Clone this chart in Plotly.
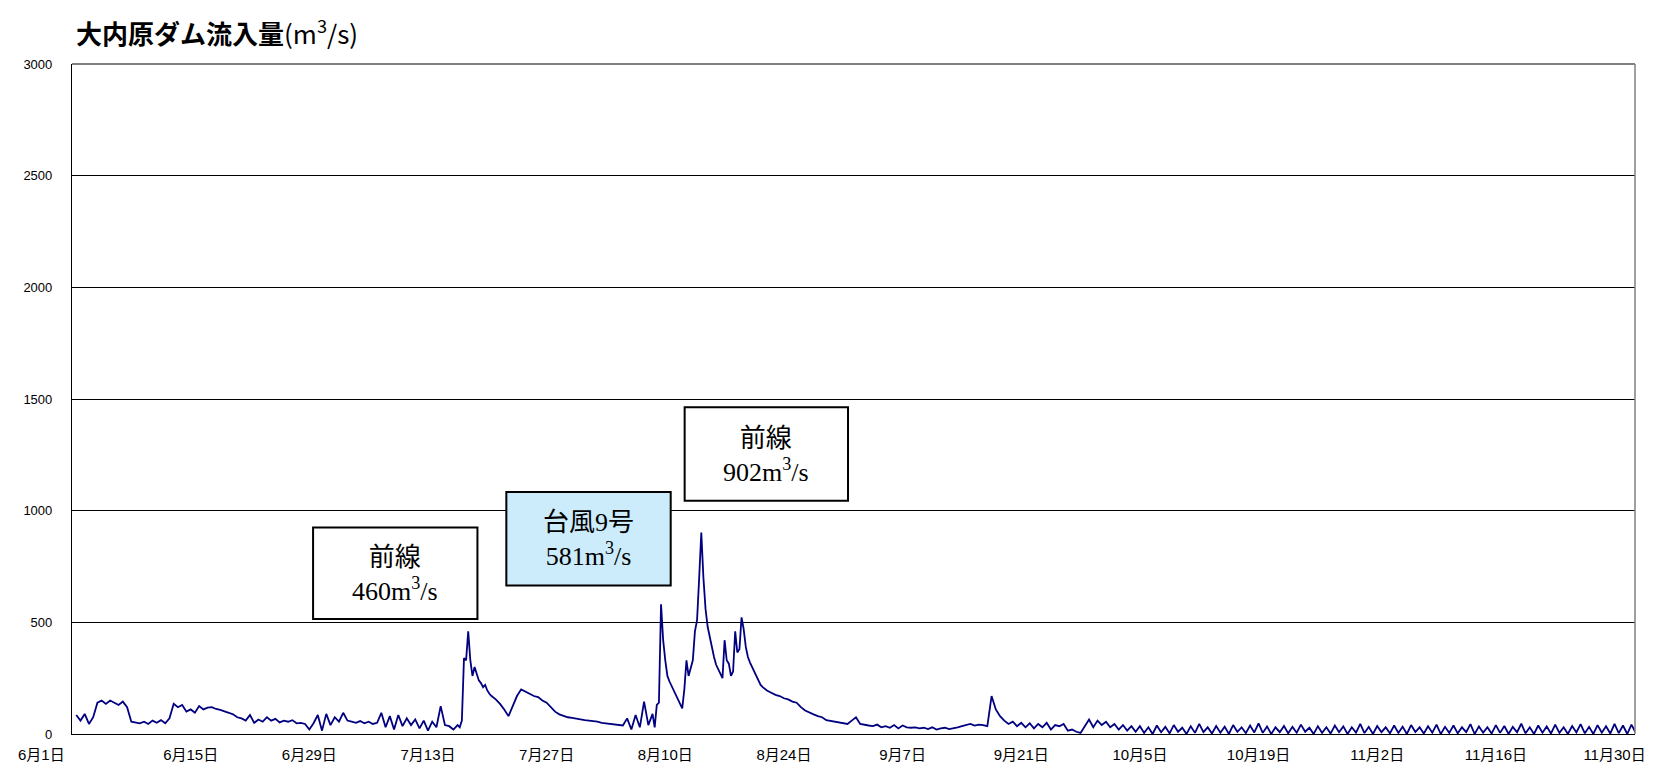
import pandas as pd
import plotly.graph_objects as go

# ---------------- data (m3/s) ----------------
# segment A: from 2021-06-01 12:00, every 12 hours
seg_a_start = "2021-06-01 12:00"
seg_a_flow = [
    85, 60, 90, 45, 75, 140, 150, 135, 150, 140,
    130, 145, 120, 55, 50, 48, 55, 45, 60, 50,
    62, 48, 70, 135, 120, 130, 100, 110, 95, 125,
    110, 118, 120, 112, 108, 100, 95, 88, 75, 70,
    60, 85, 50, 65, 55, 75, 60, 68, 52, 60,
    55, 62, 48, 50, 45, 20, 48, 85, 15, 90,
    40, 75, 55, 95, 60, 55, 50, 58, 48, 55,
    45, 50, 95, 30, 80, 20, 85, 35, 70, 40,
    65, 25, 60, 15, 55, 30, 125, 40, 35, 20,
    40,
]
# segment B: from 2021-07-16 18:00, every 6 hours (front, peak 460)
seg_b_start = "2021-07-16 18:00"
seg_b_flow = [30, 60, 340, 330, 460, 330, 260, 300, 270, 240, 228, 210, 220, 195, 180, 170]
# segment C: from 2021-07-21 00:00, every 12 hours
seg_c_start = "2021-07-21 00:00"
seg_c_flow = [
    155, 135, 110, 80, 125, 170, 200, 190, 180, 170,
    165, 150, 140, 120, 100, 88, 80, 75, 72, 68,
    65, 62, 60, 58, 55, 50, 48, 45, 42, 40,
    38, 70, 20, 85, 30, 145, 40, 90,
]
# segment D: from 2021-08-08 18:00, every 6 hours (typhoon 9 = 581, front = 902)
seg_d_start = "2021-08-08 18:00"
seg_d_flow = [
    30, 130, 140, 581, 420, 330, 260, 235, 215, 190,
    170, 150, 130, 115, 200, 330, 260, 300, 330, 460,
    510, 700, 902, 700, 560, 480, 430, 395, 345, 310,
    290, 270, 250, 420, 330, 315, 260, 280, 460, 365,
    380, 522, 470, 390, 345, 320, 300, 280, 255, 235,
    220, 210,
]
# segment E: from 2021-08-22 00:00, every 12 hours
seg_e_start = "2021-08-22 00:00"
seg_e_flow = [
    195, 185, 175, 170, 160, 155, 145, 140, 120, 105,
    95, 88, 80, 75, 62, 58, 55, 50, 48, 45,
    60, 75, 45, 40, 38, 35, 42, 30, 35, 28,
    40, 25, 38, 30, 28, 30, 25, 28, 22, 30,
    20, 25, 28, 22, 25, 30, 35, 40, 45, 38,
    42, 40, 35, 170, 110, 80, 60, 45, 55, 35,
    50, 30, 48, 25, 45, 30, 50, 20, 40, 35,
    45, 15, 20, 10, 5, 35, 65, 30, 60, 40,
    55, 30, 45, 20, 40, 15, 35, 10,
    35, 5, 30, 0, 38, 8, 32, 3, 40, 10, 28, 0, 35, 5, 45, 8, 30, 2, 36, 6,
    33, 0, 40, 10, 30, 4, 38, 7, 48, 5, 34, 0, 30, 8, 36, 3, 32, 6, 42, 10,
    28, 0, 35, 5, 30, 2, 38, 8, 34, 0, 30, 6, 45, 4, 32, 0, 36, 8, 30, 3,
    38, 5, 33, 0, 40, 9, 30, 2, 35, 6, 42, 0, 32, 5, 38, 3, 30, 8, 44, 0,
    34, 6, 30, 2, 40, 5, 36, 0, 32, 8, 46, 3, 30, 0, 38, 6, 34, 2, 42, 5,
    30, 0, 36, 7, 44, 3, 32, 0, 40, 6, 35, 2, 45, 4, 38, 0, 42, 5,
]

tick_dates = ["2021-06-01", "2021-06-15", "2021-06-29", "2021-07-13", "2021-07-27",
              "2021-08-10", "2021-08-24", "2021-09-07", "2021-09-21", "2021-10-05",
              "2021-10-19", "2021-11-02", "2021-11-16", "2021-11-30"]
tick_labels = ["6月1日", "6月15日", "6月29日", "7月13日", "7月27日", "8月10日", "8月24日",
               "9月7日", "9月21日", "10月5日", "10月19日", "11月2日", "11月16日", "11月30日"]
y_ticks = [0, 500, 1000, 1500, 2000, 2500, 3000]

events = [
    ("前線", "460"),
    ("台風9号", "581"),
    ("前線", "902"),
]

# ---------------- build series ----------------
segments = [
    (seg_a_start, "12h", seg_a_flow),
    (seg_b_start, "6h", seg_b_flow),
    (seg_c_start, "12h", seg_c_flow),
    (seg_d_start, "6h", seg_d_flow),
    (seg_e_start, "12h", seg_e_flow),
]
xs, ys = [], []
for start, freq, vals in segments:
    xs.extend(pd.date_range(start, periods=len(vals), freq=freq))
    ys.extend(vals)

# ---------------- layout geometry ----------------
W, H = 1658, 775
L, R, T, B = 72, 17, 64, 30
PW, PH = W - L - R, H - T - B


def px(xp):
    return (xp - L) / PW


def py(yp):
    return (H - B - yp) / PH


fig = go.Figure()
fig.add_trace(go.Scatter(x=xs, y=ys, mode="lines",
                         line=dict(color="#000080", width=1.8),
                         hoverinfo="skip", showlegend=False))

y_font = dict(family="Liberation Sans, Noto Sans CJK JP, sans-serif", size=13, color="black")
x_font = dict(family="Liberation Sans, Noto Sans CJK JP, sans-serif", size=15, color="black")

fig.update_layout(
    width=W, height=H,
    margin=dict(l=L, r=R, t=T, b=B, pad=0),
    paper_bgcolor="white", plot_bgcolor="white",
    showlegend=False,
    xaxis=dict(
        type="date",
        range=["2021-06-01 00:00", "2021-12-02 10:00"],
        tickvals=tick_dates[1:], ticktext=tick_labels[1:],
        tickfont=x_font, ticks="", showgrid=False,
        showline=True, linecolor="black", linewidth=1.2,
        ticklabelstandoff=7, zeroline=False,
    ),
    yaxis=dict(
        range=[0, 3000], tickvals=y_ticks, ticktext=[str(v) for v in y_ticks],
        tickfont=y_font, ticks="", showgrid=True, gridcolor="black", gridwidth=1,
        showline=True, linecolor="black", linewidth=1.2,
        ticklabelstandoff=16, zeroline=False,
    ),
)

# plot-area top/right border (grey)
fig.add_shape(type="line", xref="paper", yref="paper", x0=0, x1=1, y0=1, y1=1,
              line=dict(color="#808080", width=2), layer="above")
fig.add_shape(type="line", xref="paper", yref="paper", x0=1, x1=1, y0=0, y1=1,
              line=dict(color="#808080", width=1.5), layer="above")

# first date label sits left of the axis start
fig.add_annotation(x=px(41), y=py(766), xref="paper", yref="paper", text=tick_labels[0],
                   showarrow=False, font=x_font, xanchor="center", yanchor="middle")

# title
fig.add_annotation(x=px(74), y=py(31), xref="paper", yref="paper",
                   text="<b>大内原ダム流入量</b>(m<sup>3</sup>/s)",
                   showarrow=False, xanchor="left", yanchor="middle",
                   font=dict(family="Noto Sans CJK JP, sans-serif", size=26, color="black"))

# event boxes: (left, right, top, bottom) in px, fill
boxes = [
    ((314, 479, 535, 628), "white"),
    ((508, 673, 499, 594), "#CCEBFB"),
    ((687, 851, 413, 508), "white"),
]
box_font = dict(family="Liberation Serif, Noto Sans CJK JP, serif", size=26, color="black")
for (name, q), ((x0, x1, y0, y1), fill) in zip(events, boxes):
    fig.add_shape(type="rect", xref="paper", yref="paper",
                  x0=px(x0), x1=px(x1), y0=py(y1), y1=py(y0),
                  line=dict(color="black", width=2), fillcolor=fill, layer="above")
    fig.add_annotation(x=px((x0 + x1) / 2), y=py((y0 + y1) / 2 + 1),
                       xref="paper", yref="paper",
                       text=f"{name}<br>{q}m<sup>3</sup>/s",
                       showarrow=False, xanchor="center", yanchor="middle",
                       align="center", valign="middle", font=box_font)

fig.write_html("out.html", config={"displayModeBar": False},
               post_script="document.body.style.margin='0';")
